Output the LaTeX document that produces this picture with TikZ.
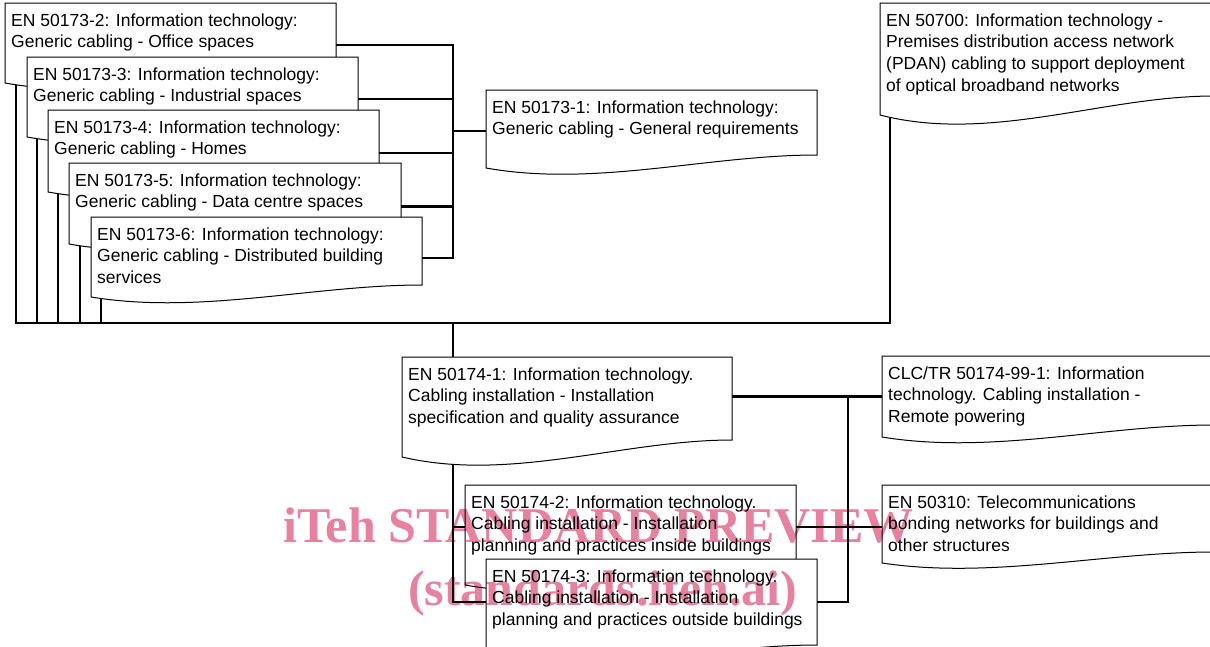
\documentclass[tikz,border=0pt]{standalone}
\usepackage{fontspec}
\setmainfont{Liberation Sans}
\newfontfamily\wmfont{Liberation Serif}
\usetikzlibrary{calc}
\definecolor{wmpink}{RGB}{232,128,160}
\pgfdeclarelayer{lines}
\pgfdeclarelayer{boxes}
\pgfdeclarelayer{wmark}
\pgfsetlayers{lines,boxes,main,wmark}
\tikzset{
  conn/.style={line width=2.3pt, draw=black},
  docline/.style={line width=1pt, draw=black, fill=white},
  doctext/.style={font=\fontsize{17.5}{21.6}\selectfont, align=left, inner sep=0pt, anchor=north west},
  boxnode/.style={inner sep=0pt, outer sep=0pt, anchor=north west},
  wmstyle/.style={font=\wmfont\bfseries\fontsize{50}{50}\selectfont, text=wmpink, inner sep=0pt, anchor=base west}
}
% #1 name, #2 x0, #3 y0, #4 x1, #5 y bottom (left), #6 rise of right end, #7 text
\newcommand\docbox[7]{%
  \node[boxnode, minimum width={(#4-#2)*1pt}, minimum height={(#5-#3)*1pt}] (#1) at (#2,#3) {};
  \begin{pgfonlayer}{boxes}
    \draw[docline] (#1.north west) -- (#1.north east) -- ($(#1.south east)+(0,-#6)$)
      .. controls ($(#1.south east)+({-0.33*(#4-#2)},-#6)$) and ($(#1.south west)+({0.33*(#4-#2)},{1.5*#6})$) .. (#1.south west) -- cycle;
  \end{pgfonlayer}
  \node[doctext] (#1-t) at ($(#1.north west)+(6,10.5)$) {#7};
}
\begin{document}
\begin{tikzpicture}[x=1pt,y=-1pt]
\useasboundingbox (0,0) rectangle (1210,646);

\docbox{b2}{5}{3}{336}{83}{13}{EN 50173-2: Information technology:\\Generic cabling - Office spaces}
\docbox{b3}{27}{57}{358}{137}{13}{EN 50173-3: Information technology:\\Generic cabling - Industrial spaces}
\docbox{b4}{48}{110}{379}{192}{13}{EN 50173-4: Information technology:\\Generic cabling - Homes}
\docbox{b5}{69}{163}{401}{244}{13}{EN 50173-5: Information technology:\\Generic cabling - Data centre spaces}
\docbox{b6}{91}{217}{422}{297}{12}{EN 50173-6: Information technology:\\Generic cabling - Distributed building\\services}
\docbox{e1}{486}{90}{817}{168}{13}{EN 50173-1: Information technology:\\Generic cabling - General requirements}
\docbox{e700}{880}{3}{1214}{115}{19}{EN 50700: Information technology -\\Premises distribution access network\\(PDAN) cabling to support deployment\\of optical broadband networks}
\docbox{f1}{402}{357}{732}{457}{17}{EN 50174-1: Information technology.\\Cabling installation - Installation\\specification and quality assurance}
\docbox{c1}{882}{356}{1214}{437}{12}{CLC/TR 50174-99-1: Information\\technology. Cabling installation -\\Remote powering}
\docbox{e310}{882}{485}{1214}{563}{11}{EN 50310: Telecommunications\\bonding networks for buildings and\\other structures}
\docbox{f2}{465}{485}{796}{585}{13}{EN 50174-2: Information technology.\\Cabling installation - Installation\\planning and practices inside buildings}
\docbox{f3}{486}{559}{817}{658}{13}{EN 50174-3: Information technology.\\Cabling installation - Installation\\planning and practices outside buildings}

\begin{pgfonlayer}{lines}
  \coordinate (ja) at (453,323);
  \coordinate (jc) at (848,602);
  \path ($(b2.south west)+(11,0)$) coordinate (v2)
        ($(b3.south west)+(10,0)$) coordinate (v3)
        ($(b4.south west)+(10,0)$) coordinate (v4)
        ($(b5.south west)+(11,0)$) coordinate (v5)
        ($(b6.south west)+(10,0)$) coordinate (v6)
        ($(e700.south west)+(10,0)$) coordinate (v7);
  \draw[conn] (v2) |- (ja) -| (v7);
  \draw[conn] (v3) -- (v3 |- ja);
  \draw[conn] (v4) -- (v4 |- ja);
  \draw[conn] (v5) -- (v5 |- ja);
  \draw[conn] (v6) -- (v6 |- ja);
  \draw[conn] ($(b2.east)+(0,2)$) -| ($(ja |- b6.east)+(0,1)$) -- ($(b6.east)+(0,1)$);
  \draw[conn] ($(b3.east)+(0,2)$) -- ($(b3.east -| ja)+(0,2)$);
  \draw[conn] ($(b4.east)+(0,2)$) -- ($(b4.east -| ja)+(0,2)$);
  \draw[conn] ($(b5.east)+(0,3)$) -- ($(b5.east -| ja)+(0,3)$);
  \draw[conn] ($(e1.west)+(0,2)$) -- ($(e1.west -| ja)+(0,2)$);
  \draw[conn] (ja) -- (ja |- f1.north);
  \draw[conn] (ja |- f1.south) -- (ja |- jc) -- (f3.west |- jc);
  \draw[conn] ($(ja |- e310.west)+(0,3)$) -- ($(f2.west |- e310.west)+(0,3)$);
  \draw[conn] ($(f2.east |- e310.west)+(0,3)$) -- ($(e310.west)+(0,3)$);
  \draw[conn] (f1.east |- c1.west) -- (c1.west);
  \draw[conn] (jc |- c1.west) -- (jc) -- (f3.east |- jc);
\end{pgfonlayer}

\begin{pgfonlayer}{wmark}
  \begin{scope}[blend mode=multiply]
    \node[wmstyle] (w1) at (283,542) {iTeh STANDARD PREVIEW};
    \node[wmstyle] (w2) at (408,605) {(standards.iteh.ai)};
  \end{scope}
\end{pgfonlayer}
\end{tikzpicture}
\end{document}
